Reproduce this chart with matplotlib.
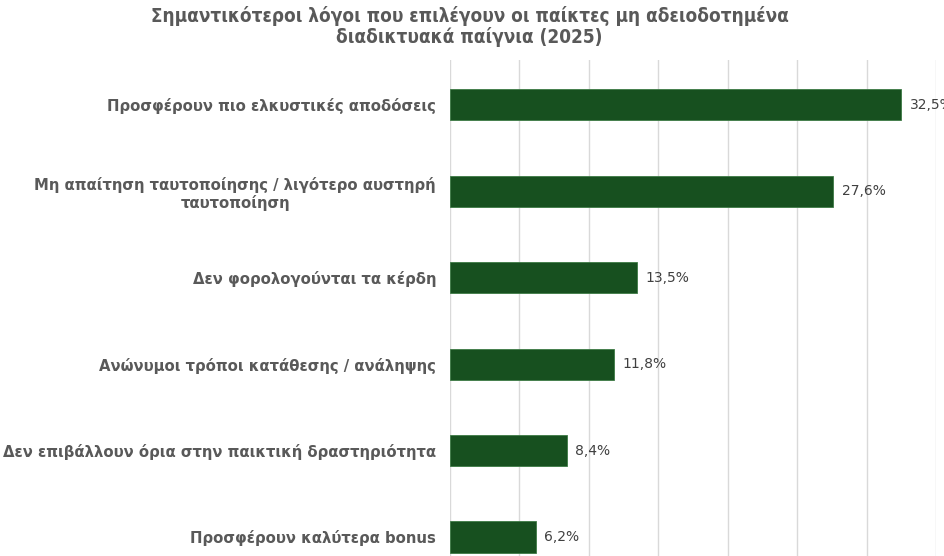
import matplotlib as mpl
import matplotlib.pyplot as plt

mpl.rcParams['font.family'] = ['DejaVu Sans']

categories = [
    'Προσφέρουν πιο ελκυστικές αποδόσεις',
    'Μη απαίτηση ταυτοποίησης / λιγότερο αυστηρή\nταυτοποίηση',
    'Δεν φορολογούνται τα κέρδη',
    'Ανώνυμοι τρόποι κατάθεσης / ανάληψης',
    'Δεν επιβάλλουν όρια στην παικτική δραστηριότητα',
    'Προσφέρουν καλύτερα bonus',
]
values = [32.5, 27.6, 13.5, 11.8, 8.4, 6.2]
value_labels = ['32,5%', '27,6%', '13,5%', '11,8%', '8,4%', '6,2%']
title = 'Σημαντικότεροι λόγοι που επιλέγουν οι παίκτες μη αδειοδοτημένα\nδιαδικτυακά παίγνια (2025)'

fig = plt.figure(figsize=(9.45, 5.56), dpi=100)
ax = fig.add_axes([450/945, 0, 486/945, 496/556])
ys = list(range(len(values)))
ax.barh(ys, values, height=0.36, color='#17501f', edgecolor='#3d7a45',
        linewidth=0.6, zorder=3)
ax.set_xlim(0, 35)
ax.set_ylim(5.22, -0.52)
ax.set_xticks(range(0, 36, 5))
ax.set_xticklabels([])
ax.tick_params(axis='x', length=0)
ax.grid(axis='x', color='#d9d9d9', linewidth=1.0, zorder=0)
for s in ax.spines.values():
    s.set_visible(False)
ax.set_yticks(ys)
ax.set_yticklabels(categories, fontsize=10.7, fontweight='bold', color='#595959')
for t in ax.get_yticklabels():
    t.set_multialignment('center')
ax.tick_params(axis='y', length=0, pad=10)
for y, v, lab in zip(ys, values, value_labels):
    ax.annotate(lab, (v, y), xytext=(6, 0), textcoords='offset points',
                va='center', ha='left', fontsize=10, color='#404040',
                annotation_clip=False)

fig.text(0.497, 0.99, title, ha='center', va='top', fontsize=13.6,
         fontweight='bold', color='#595959', fontstretch='condensed',
         family=['Liberation Sans Narrow', 'DejaVu Sans'], linespacing=1.1)

fig.savefig('out.png', dpi=100, facecolor='white')
